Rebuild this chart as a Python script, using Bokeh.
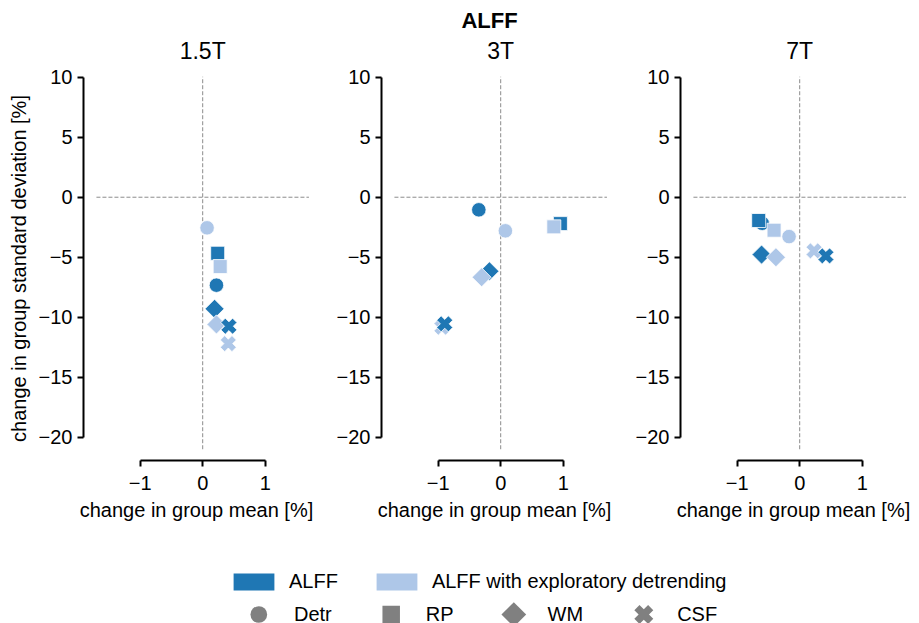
import math
from bokeh.plotting import figure
from bokeh.models import Range1d, FixedTicker, Legend, LegendItem, Label
from bokeh.layouts import column, row
from bokeh.embed import file_html
from bokeh.resources import INLINE

# ---------------- data ----------------
TITLE = "ALFF"
FIELDS = ["1.5T", "3T", "7T"]
METHODS = ["Detr", "RP", "WM", "CSF"]
SERIES = ["ALFF", "ALFF with exploratory detrending"]

# change in group mean [%] / change in group standard deviation [%], order = METHODS
mean_15_alff = [0.22, 0.24, 0.19, 0.42]
sd_15_alff = [-7.33, -4.67, -9.3, -10.75]
mean_15_exp = [0.07, 0.28, 0.22, 0.41]
sd_15_exp = [-2.55, -5.78, -10.6, -12.2]

mean_3_alff = [-0.35, 0.955, -0.18, -0.895]
sd_3_alff = [-1.05, -2.2, -6.17, -10.55]
mean_3_exp = [0.075, 0.85, -0.305, -0.94]
sd_3_exp = [-2.8, -2.47, -6.67, -10.83]

mean_7_alff = [-0.6, -0.656, -0.61, 0.42]
sd_7_alff = [-2.17, -1.94, -4.78, -4.89]
mean_7_exp = [-0.17, -0.41, -0.38, 0.23]
sd_7_exp = [-3.28, -2.75, -5.0, -4.47]

X_TICKS = [-1, 0, 1]
Y_TICKS = [-20, -15, -10, -5, 0, 5, 10]

# ---------------- style / geometry ----------------
FONT = "Liberation Sans"
DARK = "#1f77b4"
LIGHT = "#aec7e8"
GRAY = "#808080"
MARKER = {
    "Detr": ("circle", 0.0, 14.5),
    "RP": ("square", 0.0, 14),
    "WM": ("square", math.pi / 4, 13.5),
    "CSF": ("plus", math.pi / 4, 16.5),
}
LEG_MARKER = {
    "Detr": ("circle", 0.0, 16.7),
    "RP": ("square", 0.0, 17.5),
    "WM": ("square", math.pi / 4, 17.5),
    "CSF": ("plus", math.pi / 4, 19.5),
}
LEG_KEY_X = [258.3, 390.7, 513.3, 643.3]   # legend key centres (px)

W_TOTAL = 919
PX_X = 62.5   # px per unit x
PX_Y = 12.0   # px per unit y
FW, FH = 226, 384
X0 = -1.907
X1 = X0 + FW / PX_X
Y1 = 10.06
Y0 = Y1 - FH / PX_Y
AX_XLIM = (-1.7, 1.7)
AX_YLIM = (-21.0, Y1)

HEAD_H = 62
BORDERS = [(83, 12), (60, 13), (60, 13)]  # (left, right) per panel
TOP_B, BOT_B = 14, 64
LEG_H = 623 - (HEAD_H + TOP_B + FH + BOT_B)


def fmt(t):
    return str(t).replace("-", "\u2212")


def make_panel(i, ma, sa, me, se):
    left, right = BORDERS[i]
    p = figure(frame_width=FW, frame_height=FH,
               min_border_left=left, min_border_right=right,
               min_border_top=TOP_B, min_border_bottom=BOT_B,
               x_range=Range1d(X0, X1), y_range=Range1d(Y0, Y1),
               output_backend="svg", toolbar_location=None,
               outline_line_color=None, background_fill_color="white",
               border_fill_color="white")
    p.xgrid.visible = False
    p.ygrid.visible = False

    # reference lines at zero
    p.segment(x0=[AX_XLIM[0]], x1=[AX_XLIM[1]], y0=[0], y1=[0],
              line_color="#8c8c8c", line_width=1, line_dash="4 2")
    p.segment(x0=[0], x1=[0], y0=[AX_YLIM[0]], y1=[AX_YLIM[1]],
              line_color="#8c8c8c", line_width=1, line_dash="4 2")

    order = [("Detr", "a"), ("Detr", "e"), ("RP", "a"), ("RP", "e"),
             ("WM", "a"), ("WM", "e"), ("CSF", "e"), ("CSF", "a")]
    for m, s in order:
        k = METHODS.index(m)
        xs = ma if s == "a" else me
        ys = sa if s == "a" else se
        mk, ang, sz = MARKER[m]
        p.scatter(x=[xs[k]], y=[ys[k]], marker=mk, angle=ang, size=sz,
                  fill_color=DARK if s == "a" else LIGHT,
                  line_color="white", line_width=0.8)

    for ax in (p.xaxis[0], p.yaxis[0]):
        ax.axis_line_color = "black"
        ax.axis_line_width = 2
        ax.major_tick_line_color = "black"
        ax.major_tick_line_width = 2
        ax.major_tick_out = 6
        ax.major_tick_in = 0
        ax.minor_tick_out = 0
        ax.minor_tick_in = 0
        ax.major_label_text_font = FONT
        ax.major_label_text_font_size = "20px"
        ax.major_label_text_color = "black"
        ax.axis_label_text_font = FONT
        ax.axis_label_text_font_size = "20px"
        ax.axis_label_text_font_style = "normal"
        ax.axis_label_text_color = "black"
    p.xaxis.major_label_standoff = 9
    p.yaxis.major_label_standoff = 5
    p.xaxis.bounds = (X_TICKS[0], X_TICKS[-1])
    p.yaxis.bounds = (Y_TICKS[0], Y_TICKS[-1])
    p.xaxis.ticker = FixedTicker(ticks=X_TICKS)
    p.yaxis.ticker = FixedTicker(ticks=Y_TICKS)
    p.xaxis.major_label_overrides = {t: fmt(t) for t in X_TICKS}
    p.yaxis.major_label_overrides = {t: fmt(t) for t in Y_TICKS}
    p.xaxis.axis_label = "change in group mean [%]"
    p.xaxis.axis_label_standoff = 6
    if i == 0:
        p.yaxis.axis_label = "change in group standard deviation [%]"
        p.yaxis.axis_label_standoff = 6
    return p


panels = [
    make_panel(0, mean_15_alff, sd_15_alff, mean_15_exp, sd_15_exp),
    make_panel(1, mean_3_alff, sd_3_alff, mean_3_exp, sd_3_exp),
    make_panel(2, mean_7_alff, sd_7_alff, mean_7_exp, sd_7_exp),
]

# ---------------- header (suptitle + panel titles) ----------------
head = figure(width=W_TOTAL, height=HEAD_H, x_range=Range1d(0, W_TOTAL),
              y_range=Range1d(0, HEAD_H), output_backend="svg",
              toolbar_location=None, min_border=0, x_axis_location=None,
              y_axis_location=None, outline_line_color=None)
head.grid.visible = False
head.add_layout(Label(x=489, y=HEAD_H - 20, text=TITLE, text_align="center",
                      text_baseline="middle", text_font=FONT,
                      text_font_size="22px", text_font_style="bold",
                      text_color="black"))
frame_left = 0
for i, field in enumerate(FIELDS):
    left, right = BORDERS[i]
    frame_left += left
    cx = frame_left + (0 - X0) * PX_X
    head.add_layout(Label(x=cx, y=HEAD_H - 50, text=field, text_align="center",
                          text_baseline="middle", text_font=FONT,
                          text_font_size="23px", text_color="black"))
    frame_left += FW + right

# ---------------- legend ----------------
nan = float("nan")
leg = figure(width=W_TOTAL, height=LEG_H, x_range=Range1d(0, W_TOTAL),
             y_range=Range1d(0, LEG_H),
             output_backend="svg", toolbar_location=None, min_border=0,
             x_axis_location=None, y_axis_location=None,
             outline_line_color=None)
leg.grid.visible = False

r_dark = leg.rect(x=[nan], y=[nan], width=1, height=1, fill_color=DARK, line_color=None)
r_light = leg.rect(x=[nan], y=[nan], width=1, height=1, fill_color=LIGHT, line_color=None)
legend1 = Legend(items=[LegendItem(label=SERIES[0], renderers=[r_dark]),
                        LegendItem(label=SERIES[1], renderers=[r_light])],
                 orientation="horizontal", location=(228, 29.5),
                 glyph_width=51, glyph_height=21, label_height=24,
                 label_standoff=10, spacing=33, padding=0, margin=0,
                 border_line_color=None, background_fill_alpha=0,
                 label_text_font=FONT, label_text_font_size="20px",
                 label_text_color="black")
leg.add_layout(legend1)

# second legend row: labels via Legend, keys drawn as markers (rotated shapes)
ROW2_Y = LEG_H - 90
mk_items = []
for j, m in enumerate(METHODS):
    mk, ang, sz = LEG_MARKER[m]
    key = leg.scatter(x=[LEG_KEY_X[j]], y=[ROW2_Y], marker=mk, angle=ang, size=sz,
                      fill_color=GRAY, line_color=None)
    dummy = leg.scatter(x=[nan], y=[nan], marker=mk, fill_alpha=0, line_alpha=0)
    mk_items.append(LegendItem(label=m, renderers=[dummy]))
legend2 = Legend(items=mk_items, orientation="horizontal",
                 location=(236, ROW2_Y - 22.5),
                 glyph_width=45, glyph_height=45, label_standoff=13, spacing=36,
                 padding=0, margin=0, border_line_color=None,
                 background_fill_alpha=0, label_text_font=FONT,
                 label_text_font_size="20px", label_text_color="black")
leg.add_layout(legend2)

layout = column(head, row(*panels, spacing=0), leg, spacing=0)

open("out.html", "w").write(file_html(layout, INLINE))
